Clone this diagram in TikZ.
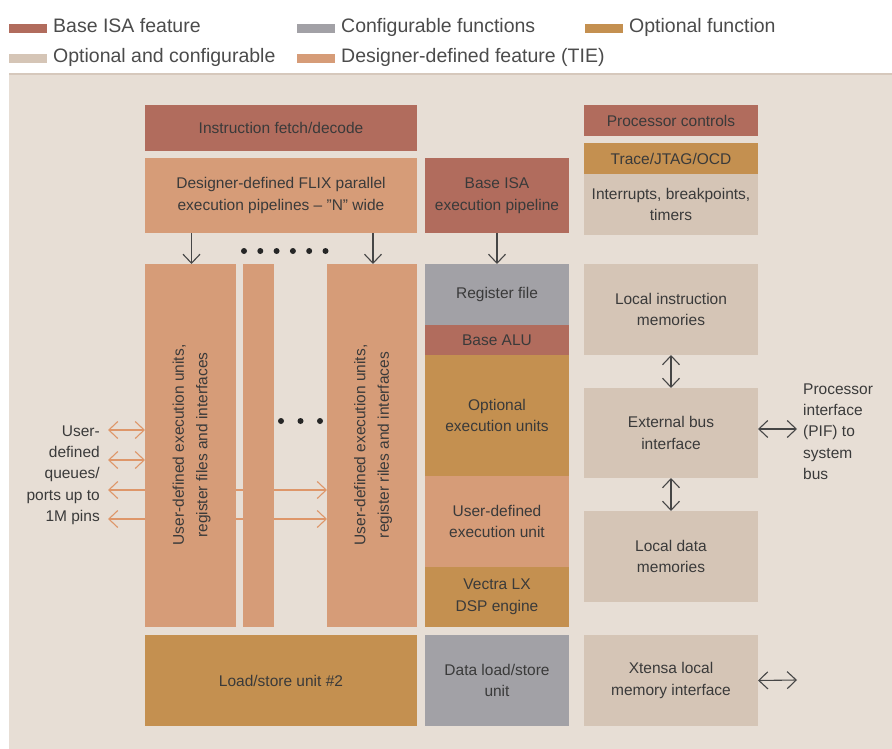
\documentclass[tikz,border=0pt]{standalone}
\usepackage{fontspec}
\setmainfont{Liberation Sans}
\usetikzlibrary{arrows.meta}
\definecolor{cbase}{RGB}{177,108,93}
\definecolor{ccfg}{RGB}{162,161,166}
\definecolor{copt}{RGB}{196,144,80}
\definecolor{coptcfg}{RGB}{213,197,182}
\definecolor{cdes}{RGB}{214,156,120}
\definecolor{cpanel}{RGB}{231,222,213}
\definecolor{cpline}{RGB}{214,200,188}
\definecolor{ctxt}{RGB}{58,58,58}
\definecolor{clegtxt}{RGB}{75,75,75}
\definecolor{carr}{RGB}{70,70,70}
\definecolor{corarr}{RGB}{222,150,105}
\newcommand\bxfont{\fontsize{15.5}{21.5}\selectfont}
\newcommand\lgfont{\fontsize{19.5}{23}\selectfont}
\begin{document}
\begin{tikzpicture}[x=1pt,y=-1pt,
  blk/.style={inner sep=0pt, outer sep=0pt, text=ctxt, font=\bxfont, align=center},
  swatch/.style={inner sep=0pt, outer sep=0pt, minimum width=38pt, minimum height=9pt, anchor=south west},
  legtxt/.style={inner sep=0pt, anchor=base west, text=clegtxt, font=\lgfont},
  plain/.style={inner sep=0pt, text=ctxt, font=\bxfont},
  barb/.tip={Straight Barb[length=9pt,width=17pt]},
  darr/.style={draw=carr, line width=1.1pt, -barb},
  dbl/.style={draw=carr, line width=1.1pt, barb-barb},
  odbl/.style={draw=corarr, line width=1.1pt, barb-barb},
  dot/.style={circle, fill=black!85, inner sep=0pt, minimum size=6pt}
]
\useasboundingbox (0,0) rectangle (892,749);
% legend
\node[swatch, fill=cbase] (s1) at (9,33) {};
\node[legtxt] (l1) at (53,33) {Base ISA feature};
\node[swatch, fill=ccfg] (s2) at (297,33) {};
\node[legtxt] (l2) at (341,33) {Configurable functions};
\node[swatch, fill=copt] (s3) at (585,33) {};
\node[legtxt] (l3) at (629,33) {Optional function};
\node[swatch, fill=coptcfg] (s4) at (9,63) {};
\node[legtxt] (l4) at (53,63) {Optional and configurable};
\node[swatch, fill=cdes] (s5) at (297,63) {};
\node[legtxt] (l5) at (341,63) {Designer-defined feature (TIE)};
% panel
\fill[cpanel] (9,74) rectangle (892,749);
\fill[cpline] (9,73.5) rectangle (892,75.5);
% orange port arrows (behind the columns)
\coordinate (q1l) at (108,430); \coordinate (q1r) at (145,430);
\coordinate (q2l) at (108,460); \coordinate (q2r) at (145,460);
\coordinate (q3l) at (108,490); \coordinate (q3r) at (327,490);
\coordinate (q4l) at (108,519); \coordinate (q4r) at (327,519);
\draw[odbl] (q1l) -- (q1r);
\draw[odbl] (q2l) -- (q2r);
\draw[odbl] (q3l) -- (q3r);
\draw[odbl] (q4l) -- (q4r);
% top row
\node[blk, fill=cbase, minimum width=272pt, minimum height=46pt] (fetch) at (281,128) {Instruction fetch/decode};
\node[blk, fill=cdes, minimum width=272pt, minimum height=75pt] (flix) at (281,195.5) {Designer-defined FLIX parallel\\execution pipelines -- "N" wide};
\node[blk, fill=cbase, minimum width=144pt, minimum height=75pt] (bisa) at (497,195.5) {Base ISA\\execution pipeline};
\node[blk, fill=cbase, minimum width=174pt, minimum height=31pt] (pctl) at (671,120.5) {Processor controls};
\node[blk, fill=copt, minimum width=174pt, minimum height=31pt] (trace) at (671,158.5) {Trace/JTAG/OCD};
\node[blk, fill=coptcfg, minimum width=174pt, minimum height=61pt] (intr) at (671,204.5) {Interrupts, breakpoints,\\timers};
% TIE columns
\node[blk, fill=cdes, minimum width=91pt, minimum height=363pt] (col1) at (190.5,445.5) {};
\node[blk, fill=cdes, minimum width=31pt, minimum height=363pt] (col2) at (258.5,445.5) {};
\node[blk, fill=cdes, minimum width=90pt, minimum height=363pt] (col3) at (372,445.5) {};
\node[blk, rotate=90, font=\fontsize{15.5}{23.5}\selectfont] (col1t) at (191.5,445) {User-defined execution units,\\register files and interfaces};
\node[blk, rotate=90, font=\fontsize{15.5}{23.5}\selectfont] (col3t) at (373,445) {User-defined execution units,\\register riles and interfaces};
% middle column
\node[blk, fill=ccfg, minimum width=144pt, minimum height=61pt] (rf) at (497,294.5) {Register file};
\node[blk, fill=cbase, minimum width=144pt, minimum height=30pt] (alu) at (497,340) {Base ALU};
\node[blk, fill=copt, minimum width=144pt, minimum height=121pt] (oeu) at (497,415.5) {Optional\\execution units};
\node[blk, fill=cdes, minimum width=144pt, minimum height=91pt] (ude) at (497,521.5) {User-defined\\execution unit};
\node[blk, fill=copt, minimum width=144pt, minimum height=60pt] (vec) at (497,597) {Vectra LX\\DSP engine};
\node[blk, fill=ccfg, minimum width=144pt, minimum height=91pt] (dls) at (497,680.5) {Data load/store\\unit};
\node[blk, fill=copt, minimum width=272pt, minimum height=91pt] (ls2) at (281,680.5) {Load/store unit \#2};
% right column
\node[blk, fill=coptcfg, minimum width=174pt, minimum height=91pt] (lim) at (671,309.5) {Local instruction\\memories};
\node[blk, fill=coptcfg, minimum width=174pt, minimum height=90pt] (ebi) at (671,433) {External bus\\interface};
\node[blk, fill=coptcfg, minimum width=174pt, minimum height=91pt] (ldm) at (671,556.5) {Local data\\memories};
\node[blk, fill=coptcfg, minimum width=174pt, minimum height=91pt] (xlmi) at (671,680.5) {Xtensa local\\memory interface};
% arrows
\draw[darr] (flix.south -| col1t) -- (col1.north -| col1t);
\draw[darr] (flix.south -| col3t) -- (col3.north -| col3t);
\draw[darr] (bisa.south) -- (rf.north);
\draw[dbl] (lim.south) -- (ebi.north);
\draw[dbl] (ebi.south) -- (ldm.north);
\coordinate (pif) at (797,429);
\coordinate (xl) at (797,680);
\draw[dbl] (ebi.east |- pif) -- (pif);
\draw[dbl] (xlmi.east) -- (xl);
% dots
\foreach \i/\x in {1/244,2/260.3,3/276.6,4/292.9,5/309.2,6/325.5} \node[dot] (da\i) at (\x,251) {};
\foreach \i/\x in {1/281,2/300.5,3/320} \node[dot] (db\i) at (\x,421) {};
% labels
\node[plain, anchor=east, align=right, font=\fontsize{15.5}{21.3}\selectfont] (ports) at (100,475) {User-\\defined\\queues/\\ports up to\\1M pins};
\node[plain, anchor=west, align=left, font=\fontsize{15.5}{21.3}\selectfont] (piftxt) at (803,431.5) {Processor\\interface\\(PIF) to\\system\\bus};
\end{tikzpicture}
\end{document}
